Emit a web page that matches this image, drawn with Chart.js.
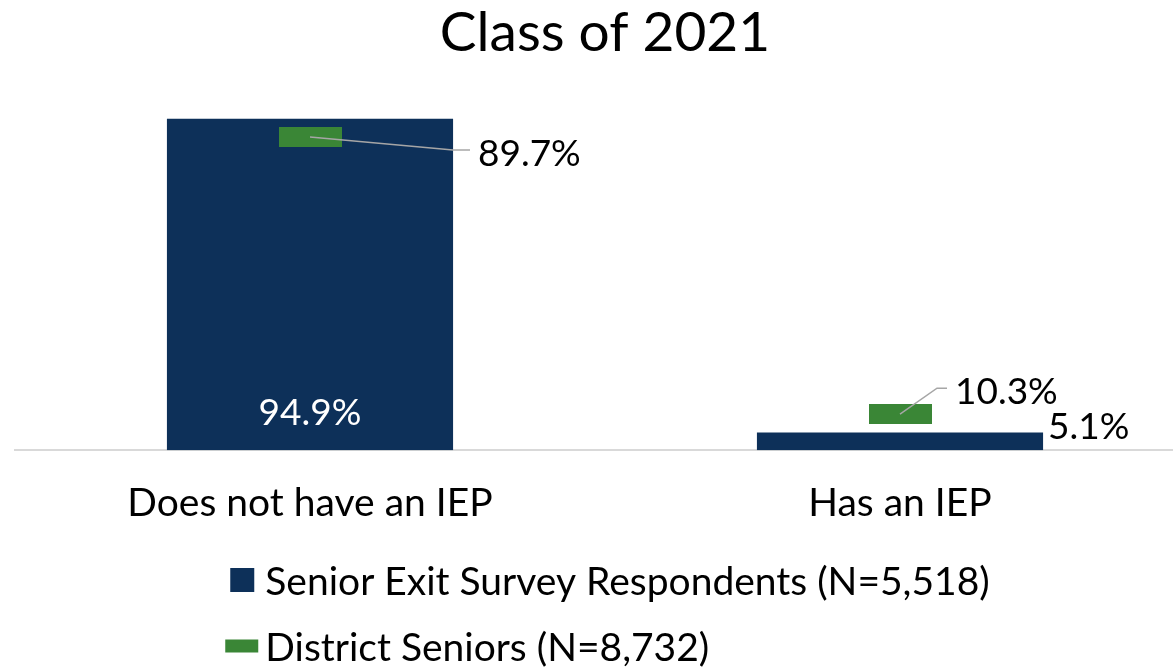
<!DOCTYPE html>
<html>
<head>
<meta charset="utf-8">
<script src="https://cdn.jsdelivr.net/npm/chart.js@4.4.1/dist/chart.umd.min.js"></script>
<style>
  html, body { margin: 0; padding: 0; background: #fff; overflow: hidden; width: 1173px; height: 667px; }
  canvas { display: block; }
</style>
</head>
<body>
<canvas id="chart" width="1210" height="667"></canvas>
<script>
// Chart values
const categories = ['Does not have an IEP', 'Has an IEP'];
const respondents = [94.9, 5.1];
const districtSeniors = [89.7, 10.3];
const seriesNames = ['Senior Exit Survey Respondents (N=5,518)', 'District Seniors (N=8,732)'];
const chartTitle = 'Class of 2021';

const NAVY = '#0d3059';
const GREEN = '#3a8636';
const LEADER = '#a6a6a6';
const FONT = 'Lato, Carlito, "Open Sans", sans-serif';
const LABEL_SIZE = 37;
const TEXT_SIZE = 39;

// Dash-shaped marker for the district series
const dash = document.createElement('canvas');
dash.width = 63; dash.height = 20;
const dctx = dash.getContext('2d');
dctx.fillStyle = GREEN;
dctx.fillRect(0, 0, dash.width, dash.height);

const fmt = v => v.toFixed(1) + '%';

// Value labels: bar labels plus leader-lined labels for the district markers
const valueLabels = {
  id: 'valueLabels',
  afterDatasetsDraw(chart) {
    const ctx = chart.ctx;
    ctx.save();
    ctx.font = `${LABEL_SIZE}px ${FONT}`;
    ctx.textBaseline = 'middle';

    const bars = chart.getDatasetMeta(0).data;
    bars.forEach((bar, i) => {
      const v = respondents[i];
      if (v > 50) {
        ctx.fillStyle = '#ffffff';
        ctx.textAlign = 'center';
        ctx.fillText(fmt(v), bar.x, bar.base - 37);
      } else {
        ctx.fillStyle = '#000000';
        ctx.textAlign = 'left';
        ctx.fillText(fmt(v), bar.x + bar.width / 2 + 5, bar.y - 5);
      }
    });

    // leader offsets: [elbow dx, elbow dy, end dx]
    const leaders = [[143, 13, 160], [37, -26, 47]];
    const points = chart.getDatasetMeta(1).data;
    points.forEach((pt, i) => {
      const [ex, ey, endx] = leaders[i];
      ctx.strokeStyle = LEADER;
      ctx.lineWidth = 1.5;
      ctx.beginPath();
      ctx.moveTo(pt.x, pt.y);
      ctx.lineTo(pt.x + ex, pt.y + ey);
      ctx.lineTo(pt.x + endx, pt.y + ey);
      ctx.stroke();
      ctx.fillStyle = '#000000';
      ctx.textAlign = 'left';
      ctx.fillText(fmt(districtSeniors[i]), pt.x + endx + 8, pt.y + ey + 4);
    });
    ctx.restore();
  }
};

// Two-row legend, left-aligned items, block centred under the chart
const stackedLegend = {
  id: 'stackedLegend',
  afterDraw(chart) {
    const ctx = chart.ctx;
    ctx.save();
    ctx.font = `${TEXT_SIZE}px ${FONT}`;
    ctx.textBaseline = 'middle';
    ctx.textAlign = 'left';
    const slot = 35;
    const maxText = Math.max(...seriesNames.map(s => ctx.measureText(s).width));
    const left = (chart.width - (slot + maxText)) / 2;
    const rows = [580, 646];
    // navy square
    ctx.fillStyle = NAVY;
    ctx.fillRect(left + 5, rows[0] - 12, 24, 24);
    // green dash
    ctx.fillStyle = GREEN;
    ctx.fillRect(left, rows[1] - 6.5, 33, 13);
    ctx.fillStyle = '#000000';
    ctx.fillText(seriesNames[0], left + slot + 5, rows[0] + 2);
    ctx.fillText(seriesNames[1], left + slot + 5, rows[1] + 2);
    ctx.restore();
  }
};

new Chart(document.getElementById('chart'), {
  data: {
    labels: categories,
    datasets: [
      {
        type: 'bar',
        label: seriesNames[0],
        data: respondents,
        backgroundColor: NAVY,
        barPercentage: 0.485,
        categoryPercentage: 1,
        order: 1
      },
      {
        type: 'line',
        label: seriesNames[1],
        data: districtSeniors,
        showLine: false,
        pointStyle: dash,
        pointRadius: 10,
        pointHoverRadius: 10,
        order: 0
      }
    ]
  },
  plugins: [valueLabels, stackedLegend],
  options: {
    responsive: false,
    animation: false,
    layout: { padding: { top: 0, left: 15, right: 15, bottom: 110 } },
    plugins: {
      legend: { display: false },
      tooltip: { enabled: false },
      title: {
        display: true,
        text: chartTitle,
        color: '#000000',
        font: { family: FONT, size: 55, weight: 'normal', lineHeight: 1.2 },
        padding: { top: 0, bottom: 35 }
      }
    },
    scales: {
      x: {
        grid: { display: false, drawTicks: false },
        border: { display: true, color: '#d9d9d9', width: 2 },
        ticks: { color: '#000000', font: { family: FONT, size: TEXT_SIZE }, padding: 30 }
      },
      y: {
        display: false,
        min: 0,
        max: 100
      }
    }
  }
});
</script>
</body>
</html>
